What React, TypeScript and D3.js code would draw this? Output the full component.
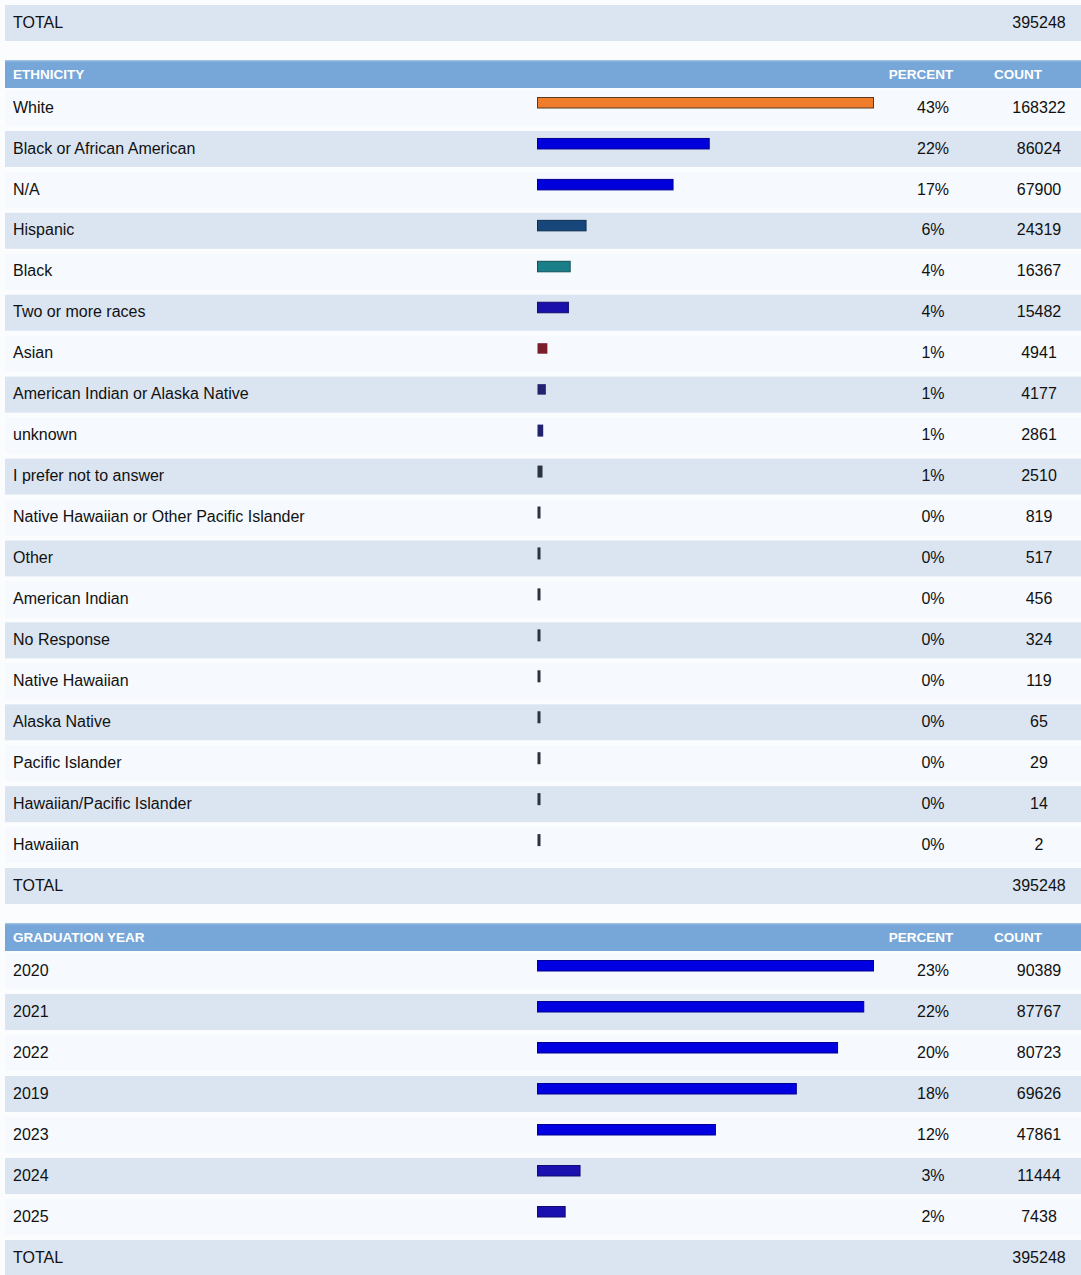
import React from "react";
import * as d3 from "d3";

const ethnicityLabels = [
  "White", "Black or African American", "N/A", "Hispanic", "Black", "Two or more races",
  "Asian", "American Indian or Alaska Native", "unknown", "I prefer not to answer",
  "Native Hawaiian or Other Pacific Islander", "Other", "American Indian", "No Response",
  "Native Hawaiian", "Alaska Native", "Pacific Islander", "Hawaiian/Pacific Islander", "Hawaiian",
];
const ethnicityCounts = [168322, 86024, 67900, 24319, 16367, 15482, 4941, 4177, 2861, 2510, 819, 517, 456, 324, 119, 65, 29, 14, 2];
const ethnicityPercents = ["43%", "22%", "17%", "6%", "4%", "4%", "1%", "1%", "1%", "1%", "0%", "0%", "0%", "0%", "0%", "0%", "0%", "0%", "0%"];
const ethnicityColors = ["#ef7d2c", "#0000dc", "#0000dc", "#16467a", "#1a7f88", "#1a10aa", "#7a1e2c", "#22226e", "#22226e",
  "#2c3240", "#2c3240", "#2c3240", "#2c3240", "#2c3240", "#2c3240", "#2c3240", "#2c3240", "#2c3240", "#2c3240"];

const yearLabels = ["2020", "2021", "2022", "2019", "2023", "2024", "2025"];
const yearCounts = [90389, 87767, 80723, 69626, 47861, 11444, 7438];
const yearPercents = ["23%", "22%", "20%", "18%", "12%", "3%", "2%"];
const yearColors = ["#0000e0", "#0000e0", "#0000e0", "#0000e0", "#0000e0", "#1a10b0", "#1a10b0"];

const totalCount = 395248;

const W = 1081;
const H = 1275;
const FONT = "'Liberation Sans', Arial, Helvetica, sans-serif";
const DARK = "#dbe5f1";
const LIGHT = "#f6f9fd";
const HEADER = "#77a6d8";
const LEFT = 5;
const BAR_X0 = 537;
const BAR_X1 = 873;
const PCT_X = 933;
const CNT_X = 1039;

function TotalRow({ cy }: { cy: number }) {
  return (
    <g>
      <rect x={LEFT} y={cy - 17} width={W - LEFT} height={36} fill={DARK} />
      <text x={13} y={cy} dy="0.35em" fontSize={16} fontFamily={FONT} fill="#111">TOTAL</text>
      <text x={CNT_X} y={cy} dy="0.35em" fontSize={16} fontFamily={FONT} fill="#111" textAnchor="middle">{totalCount}</text>
    </g>
  );
}

function Section({ title, headerCy, firstCy, pitch, labels, counts, percents, colors }: {
  title: string; headerCy: number; firstCy: number; pitch: number;
  labels: string[]; counts: number[]; percents: string[]; colors: string[];
}) {
  const x = d3.scaleLinear().domain([0, d3.max(counts) as number]).range([BAR_X0, BAR_X1]);
  const y = d3.scaleLinear().domain([0, 1]).range([firstCy, firstCy + pitch]);
  return (
    <g>
      <rect x={LEFT} y={headerCy - 14} width={W - LEFT} height={28} fill={HEADER} />
      <rect x={LEFT} y={headerCy - 14} width={W - LEFT} height={1.5} fill="#9cbfe3" />
      <text x={13} y={headerCy} dy="0.35em" fontSize={13.5} fontWeight="bold" fontFamily={FONT} fill="#fff">{title}</text>
      <text x={921} y={headerCy} dy="0.35em" fontSize={13.5} fontWeight="bold" fontFamily={FONT} fill="#fff" textAnchor="middle">PERCENT</text>
      <text x={1018} y={headerCy} dy="0.35em" fontSize={13.5} fontWeight="bold" fontFamily={FONT} fill="#fff" textAnchor="middle">COUNT</text>
      {labels.map((lab, i) => {
        const cy = y(i);
        const w = Math.max(3, x(counts[i]) - BAR_X0);
        const small = x(counts[i]) - BAR_X0 < 6;
        return (
          <g key={lab}>
            <rect x={LEFT} y={cy - 17} width={W - LEFT} height={36} fill={i % 2 === 0 ? LIGHT : DARK} />
            <rect x={BAR_X0 + 0.5} y={small ? cy - 10 : cy - 9.5} width={w} height={small ? 12 : 10.5}
              fill={colors[i]} stroke={i === 0 && colors[i] === "#ef7d2c" ? "#5a3a22" : d3.color(colors[i])!.darker(1.2).toString()}
              strokeWidth={w > 20 ? 1 : 0} />
            <text x={13} y={cy} dy="0.35em" fontSize={16} fontFamily={FONT} fill="#111">{lab}</text>
            <text x={PCT_X} y={cy} dy="0.35em" fontSize={16} fontFamily={FONT} fill="#111" textAnchor="middle">{percents[i]}</text>
            <text x={CNT_X} y={cy} dy="0.35em" fontSize={16} fontFamily={FONT} fill="#111" textAnchor="middle">{counts[i]}</text>
          </g>
        );
      })}
    </g>
  );
}

export default function App() {
  return (
    <svg width={W} height={H} style={{ position: "absolute", left: 0, top: 0, background: "#fbfcfe" }}>
      <rect x={0} y={0} width={W} height={H} fill="#fbfcfe" />
      <TotalRow cy={22} />
      <Section title="ETHNICITY" headerCy={74} firstCy={107} pitch={40.95}
        labels={ethnicityLabels} counts={ethnicityCounts} percents={ethnicityPercents} colors={ethnicityColors} />
      <TotalRow cy={885} />
      <Section title="GRADUATION YEAR" headerCy={937} firstCy={970} pitch={41}
        labels={yearLabels} counts={yearCounts} percents={yearPercents} colors={yearColors} />
      <TotalRow cy={1257} />
    </svg>
  );
}
